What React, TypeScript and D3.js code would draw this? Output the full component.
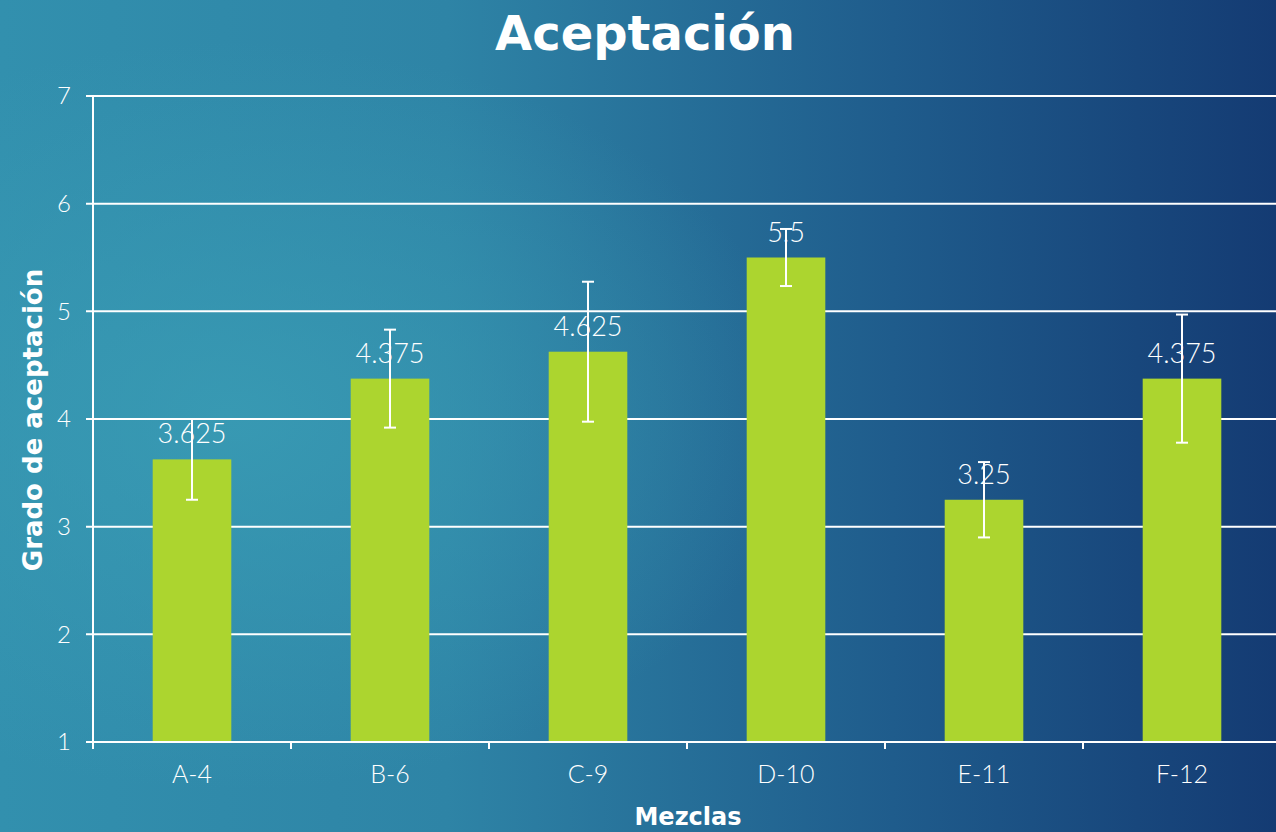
import React from "react";
import * as d3 from "d3";

const categories = ["A-4", "B-6", "C-9", "D-10", "E-11", "F-12"];
const means = [3.625, 4.375, 4.625, 5.5, 3.25, 4.375];
const errors = [0.375, 0.455, 0.65, 0.265, 0.35, 0.595];
const yTicks = [1, 2, 3, 4, 5, 6, 7];
const labels = ["3.625", "4.375", "4.625", "5.5", "3.25", "4.375"];

const W = 1276;
const H = 832;
const FONT = "Lato, 'Open Sans', sans-serif";
const BOLD = "'DejaVu Sans', sans-serif";

export default function App() {
  const left = 93;
  const top = 96;
  const bottom = 742;
  const catW = 198;
  const x = d3.scaleBand<string>().domain(categories).range([left, left + catW * categories.length]).padding(0);
  const y = d3.scaleLinear().domain([1, 7]).range([bottom, top]);
  const bw = x.bandwidth() * 0.397;
  const boundaries = d3.range(categories.length).map((i) => left + i * x.step());

  return (
    <svg width={W} height={H} style={{ position: "fixed", left: 0, top: 0, display: "block" }}>
      <defs>
        <linearGradient id="bg" x1="0" y1="0" x2="1" y2="0">
          <stop offset="0%" stopColor="#3290ae" />
          <stop offset="35%" stopColor="#2e84a6" />
          <stop offset="70%" stopColor="#1f5c8c" />
          <stop offset="100%" stopColor="#143b73" />
        </linearGradient>
        <radialGradient id="glow" cx="0.18" cy="0.5" r="0.45">
          <stop offset="0%" stopColor="#3a9db5" stopOpacity="0.8" />
          <stop offset="100%" stopColor="#3a9db5" stopOpacity="0" />
        </radialGradient>
      </defs>
      <rect x={0} y={0} width={W} height={H} fill="url(#bg)" />
      <rect x={0} y={0} width={W} height={H} fill="url(#glow)" />

      <text x={645} y={50} textAnchor="middle" fill="#fff" fontFamily={BOLD} fontWeight="bold" fontSize={48}>
        Aceptación
      </text>

      {yTicks.map((t) => (
        <g key={t}>
          <line x1={86} x2={W} y1={y(t)} y2={y(t)} stroke="#fff" strokeWidth={2} />
          <text x={71} y={y(t)} dy="0.35em" textAnchor="end" fill="#fff" fontFamily={FONT} fontWeight={300} fontSize={24}>
            {t}
          </text>
        </g>
      ))}

      {categories.map((c, i) => {
        const cx = (x(c) as number) + x.bandwidth() / 2;
        return (
          <g key={c}>
            <rect x={cx - bw / 2} y={y(means[i])} width={bw} height={bottom - y(means[i])} fill="#acd52f" />
          </g>
        );
      })}

      <line x1={left} x2={left} y1={top} y2={bottom + 7} stroke="#fff" strokeWidth={2} />
      <line x1={86} x2={W} y1={bottom} y2={bottom} stroke="#fff" strokeWidth={2} />
      {boundaries.map((b, i) => (
        <line key={i} x1={b} x2={b} y1={bottom} y2={bottom + 7} stroke="#fff" strokeWidth={2} />
      ))}

      {categories.map((c, i) => {
        const cx = (x(c) as number) + x.bandwidth() / 2;
        return (
          <g key={c + "lbl"}>
            <text x={cx} y={y(means[i]) - 16} textAnchor="middle" fill="#fff" fontFamily={FONT} fontWeight={300} fontSize={27}>
              {labels[i]}
            </text>
            <line x1={cx} x2={cx} y1={y(means[i] + errors[i])} y2={y(means[i] - errors[i])} stroke="#fff" strokeWidth={2} />
            <line x1={cx - 6} x2={cx + 6} y1={y(means[i] + errors[i])} y2={y(means[i] + errors[i])} stroke="#fff" strokeWidth={2} />
            <line x1={cx - 6} x2={cx + 6} y1={y(means[i] - errors[i])} y2={y(means[i] - errors[i])} stroke="#fff" strokeWidth={2} />
            <text x={cx} y={783} textAnchor="middle" fill="#fff" fontFamily={FONT} fontWeight={300} fontSize={25}>
              {c}
            </text>
          </g>
        );
      })}

      <text x={688} y={825} textAnchor="middle" fill="#fff" fontFamily={BOLD} fontWeight="bold" fontSize={24}>
        Mezclas
      </text>
      <text
        transform={`translate(42, ${420}) rotate(-90)`}
        textAnchor="middle"
        fill="#fff"
        fontFamily={BOLD}
        fontWeight="bold"
        fontSize={26}
      >
        Grado de aceptación
      </text>
    </svg>
  );
}
